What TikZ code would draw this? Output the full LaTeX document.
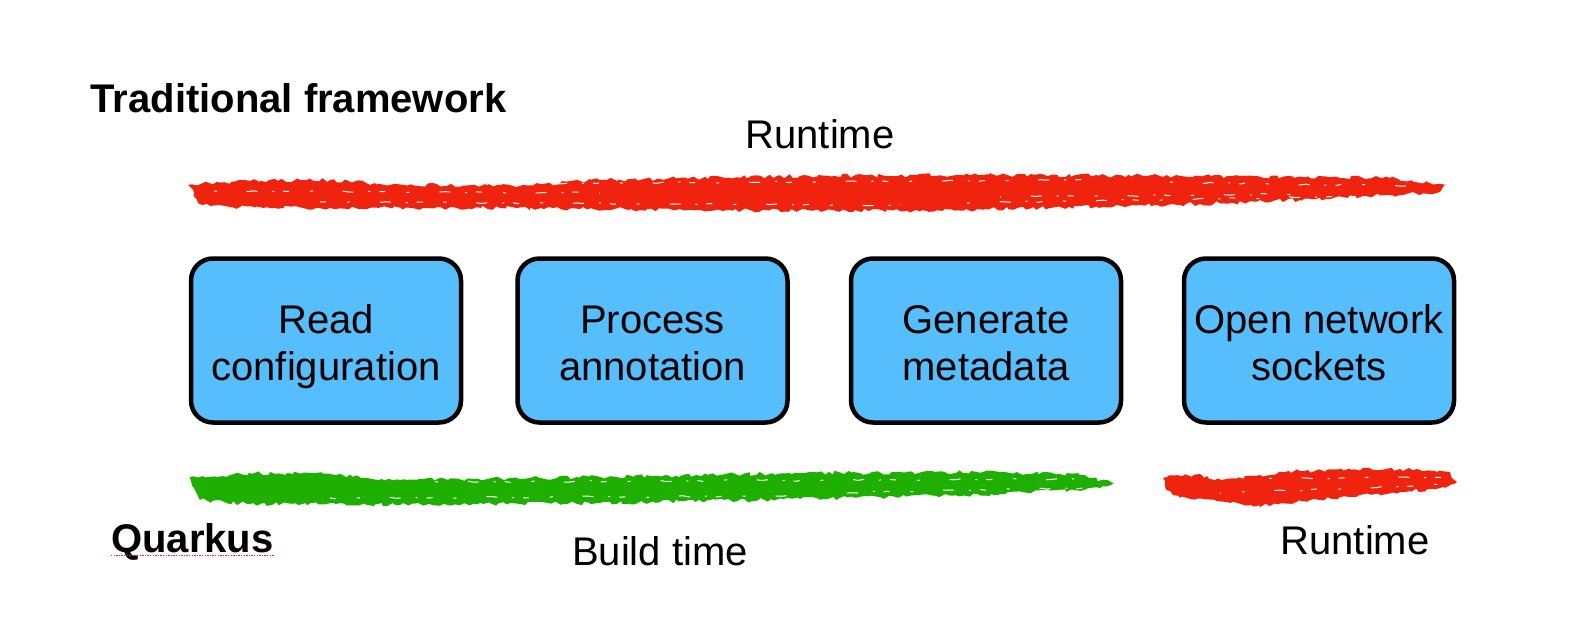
\documentclass[tikz,border=0pt]{standalone}
\usepackage{fontspec}
\setmainfont{Liberation Sans}
\usetikzlibrary{decorations.pathmorphing}
\definecolor{brushred}{HTML}{F0230F}
\definecolor{brushgreen}{HTML}{1EAF00}
\definecolor{boxblue}{HTML}{57BEFD}
\begin{document}
\begin{tikzpicture}[x=1pt,y=-1pt,
  stepbox/.style={draw=black, line width=4.5pt, fill=boxblue, rounded corners=22pt,
    minimum width=270pt, minimum height=164pt, inner sep=0pt},
  boxtext/.style={font=\fontsize{40}{47}\selectfont, align=center, inner sep=0pt},
  lbl/.style={font=\fontsize{40}{47}\selectfont, inner sep=0pt},
  title/.style={font=\fontsize{40}{47}\selectfont\bfseries, inner sep=0pt},
  brush/.style={fill=#1, decorate, decoration={random steps, segment length=4pt, amplitude=2pt}},
  scratch/.style={draw=white, line width=1pt, decorate, decoration={random steps, segment length=6pt, amplitude=0.8pt}, dash pattern=on 6pt off 21pt on 3pt off 30pt on 11pt off 15pt on 2pt off 9pt}
]
\pgfmathsetseed{7}
\useasboundingbox (0,0) rectangle (1576,623);
\fill[white] (0,0) rectangle (1576,623);

% top red brush (traditional runtime)
\path[brush=brushred] (188,185) -- (250,181) -- (330,180) -- (380,184) -- (520,186) -- (600,180) -- (800,176) -- (1000,175) -- (1200,176) -- (1390,178) -- (1447,185) -- (1440,192) -- (1390,195) -- (1300,200) -- (1200,204) -- (1050,208) -- (900,211) -- (700,210) -- (500,208) -- (330,208) -- (230,207) -- (198,203) -- (194,193) -- cycle;
\draw[scratch] (320,202) -- (900,205);
\draw[scratch, dash phase=20pt] (960,203) -- (1380,196);
\draw[scratch, dash phase=40pt] (440,184) -- (1100,180);
\draw[scratch, dash phase=7pt] (1150,182) -- (1420,186);
\draw[scratch, dash phase=13pt] (200,191) -- (600,193);
\draw[scratch, dash phase=29pt] (1000,197) -- (1300,194);

% green brush (build time)
\path[brush=brushgreen] (190,477) -- (260,473) -- (330,474) -- (400,480) -- (600,477) -- (800,473) -- (1000,472) -- (1080,475) -- (1114,483) -- (1100,488) -- (1000,494) -- (800,499) -- (600,503) -- (400,505) -- (250,504) -- (200,500) -- (194,488) -- cycle;
\draw[scratch] (330,498) -- (800,496);
\draw[scratch, dash phase=33pt] (820,493) -- (1090,488);
\draw[scratch, dash phase=12pt] (420,482) -- (1080,479);

% bottom red brush (runtime)
\path[brush=brushred] (1163,478) -- (1200,474) -- (1215,480) -- (1260,475) -- (1300,471) -- (1400,469) -- (1450,472) -- (1457,482) -- (1440,488) -- (1400,492) -- (1330,498) -- (1270,506) -- (1230,503) -- (1180,498) -- (1166,490) -- cycle;
\draw[scratch, dash phase=5pt] (1220,493) -- (1440,485);
\draw[scratch, dash phase=18pt] (1260,479) -- (1445,477);

% boxes
\node[stepbox] (b1) at (326,340.5) {};
\node[stepbox] (b2) at (652.5,340.5) {};
\node[stepbox] (b3) at (986,340.5) {};
\node[stepbox] (b4) at (1319,340.5) {};
\node[boxtext, yshift=-6.6pt] (t1) at (b1.center) {\strut Read\\\strut configuration};
\node[boxtext, yshift=-6.6pt] (t2) at (b2.center) {\strut Process\\\strut annotation};
\node[boxtext, yshift=-6.6pt] (t3) at (b3.center) {\strut Generate\\\strut metadata};
\node[boxtext, yshift=-6.6pt] (t4) at (b4.center) {\strut Open network\\\strut sockets};

% labels
\node[title, anchor=base west] (trad) at (90.5,113) {Traditional framework};
\node[lbl, anchor=base] (rt1) at (820,148) {Runtime};
\node[title, anchor=base west] (q) at (111,552) {Quarkus};
\draw[brushred, line width=1.3pt, dash pattern=on 1.3pt off 1.3pt] ([yshift=-3.5pt]q.base west) -- ([yshift=-3.5pt]q.base east);
\node[lbl, anchor=base] (bt) at (660,565) {Build time};
\node[lbl, anchor=base] (rt2) at (1355,554) {Runtime};
\end{tikzpicture}
\end{document}
